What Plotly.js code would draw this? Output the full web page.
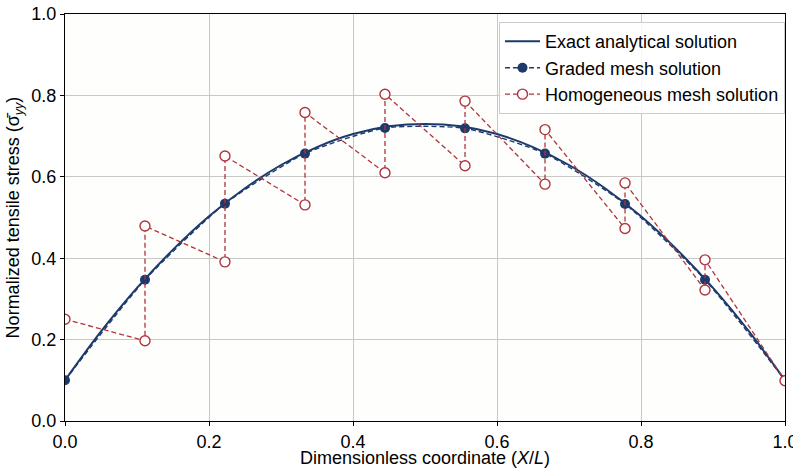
<!DOCTYPE html>
<html><head><meta charset="utf-8">
<script src="https://cdn.plot.ly/plotly-3.0.1.min.js"></script>
<style>html,body{margin:0;padding:0;background:#fff;overflow:hidden;}#chart{width:793px;height:468px;}</style>
</head><body><div id="chart"></div>
<script>
// Exact analytical solution
const exactX = [0,0.05,0.1,0.15,0.2,0.25,0.3,0.35,0.4,0.45,0.5,0.55,0.6,0.65,0.7,0.75,0.8,0.85,0.9,0.95,1.0];
const exactY = [0.10,0.22,0.327,0.421,0.503,0.572,0.629,0.673,0.705,0.724,0.730,0.724,0.705,0.673,0.629,0.572,0.503,0.421,0.327,0.22,0.10];
// Graded mesh solution nodes
const gradedX = [0,0.1111,0.2222,0.3333,0.4444,0.5556,0.6667,0.7778,0.8889,1.0];
const gradedY = [0.10,0.347,0.534,0.657,0.720,0.719,0.657,0.533,0.347,0.10];
// Homogeneous mesh solution (discontinuous at nodes)
const homX = [0,0.1111,0.1111,0.2222,0.2222,0.3333,0.3333,0.4444,0.4444,0.5556,0.5556,0.6667,0.6667,0.7778,0.7778,0.8889,0.8889,1.0];
const homY = [0.25,0.197,0.479,0.391,0.651,0.531,0.758,0.610,0.803,0.627,0.786,0.582,0.716,0.473,0.585,0.322,0.396,0.099];
const xTicks = [0,0.2,0.4,0.6,0.8,1.0];
const yTicks = [0,0.2,0.4,0.6,0.8,1.0];

const navy = '#1c3a6b';
const red = '#b0343c';
const font = 'Liberation Sans, Arial, sans-serif';

const traces = [
  {x: exactX, y: exactY, mode: 'lines', name: 'Exact analytical solution',
   line: {color: navy, width: 2, shape: 'spline', smoothing: 1}},
  {x: gradedX, y: gradedY, mode: 'lines+markers', name: 'Graded mesh solution',
   line: {color: navy, width: 1.4, dash: '5px,3px', shape: 'spline', smoothing: 0.6},
   marker: {color: navy, size: 10, symbol: 'circle'}},
  {x: homX, y: homY, mode: 'lines+markers', name: 'Homogeneous mesh solution',
   line: {color: red, width: 1.3, dash: '5px,3px'},
   marker: {color: '#ffffff', size: 10, symbol: 'circle', line: {color: red, width: 1.4}}}
];

const axisCommon = {
  showline: true, linecolor: '#000', linewidth: 1.2, mirror: true,
  ticks: 'outside', ticklen: 4, tickwidth: 1, tickcolor: '#000',
  showgrid: true, gridcolor: '#c8c8c8', gridwidth: 1, zeroline: false,
  tickfont: {family: font, size: 18, color: '#000'}, automargin: false,
  ticklabeloverflow: 'allow'
};

const layout = {
  width: 793, height: 468,
  margin: {l: 65, r: 8, t: 14, b: 47},
  paper_bgcolor: '#ffffff', plot_bgcolor: '#fefefc',
  font: {family: font, size: 18, color: '#000'},
  showlegend: true,
  legend: {x: 1.0, xanchor: 'right', y: 0.98, yanchor: 'top',
    bgcolor: 'rgba(255,255,255,0.85)', bordercolor: '#cccccc', borderwidth: 1,
    font: {family: font, size: 18, color: '#000'}, tracegroupgap: 0, itemwidth: 35},
  xaxis: Object.assign({}, axisCommon, {range: [0, 1], tickvals: xTicks,
    ticktext: xTicks.map(v => v.toFixed(1)),
    title: {text: 'Dimensionless coordinate (<i>X</i>/<i>L</i>)', font: {family: font, size: 18}, standoff: 1}}),
  yaxis: Object.assign({}, axisCommon, {range: [0, 1], tickvals: yTicks,
    ticktext: yTicks.map(v => v.toFixed(1)),
    title: {text: 'Normalized tensile stress (σ\u0304<sub><i>yy</i></sub>)', font: {family: font, size: 18}, standoff: 6}})
};

Plotly.newPlot('chart', traces, layout, {displayModeBar: false, staticPlot: true});
</script></body></html>
